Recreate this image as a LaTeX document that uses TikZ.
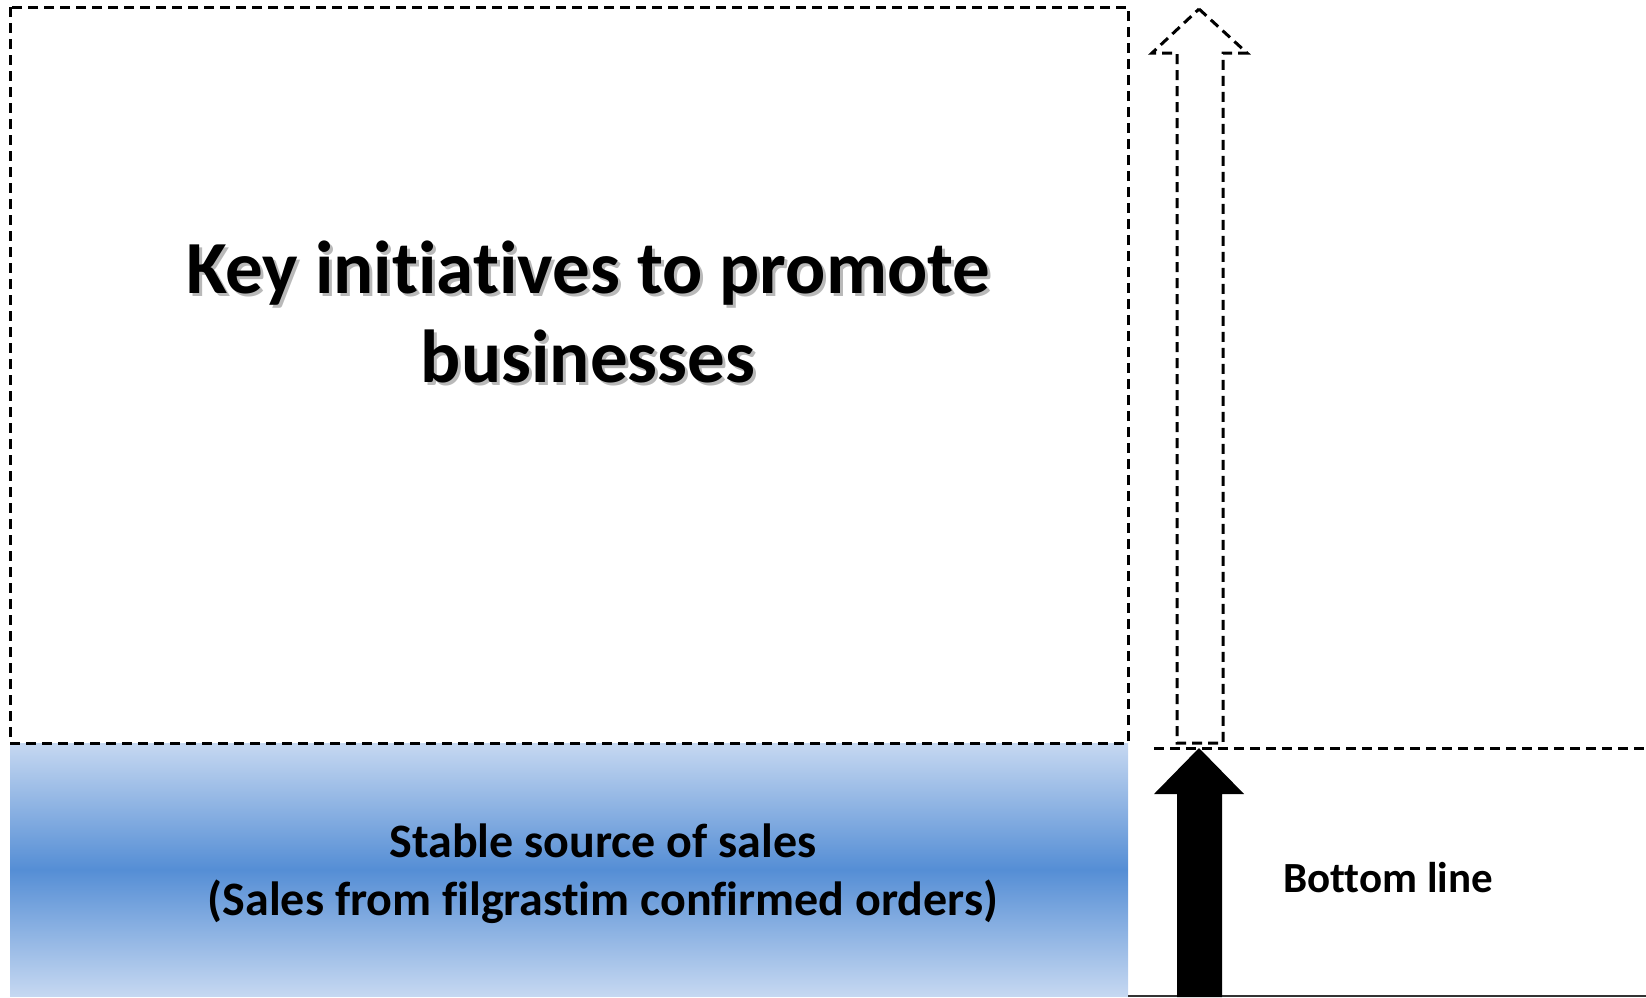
\documentclass[tikz,border=0pt]{standalone}
\usepackage{fontspec}
\setmainfont{Carlito}[Ligatures={NoCommon,NoRequired}]
\usepackage{tikz}

\definecolor{paleblue}{RGB}{198,216,241}
\definecolor{midblue}{RGB}{85,142,213}

\tikzset{
    dashline/.style={draw=black,line width=3pt,dash pattern=on 10pt off 6pt},
    bigtext/.style={font=\bfseries\fontsize{75}{89}\selectfont,align=center},
    midtext/.style={font=\bfseries\fontsize{48}{58}\selectfont,align=center}
}

\begin{document}
\begin{tikzpicture}[x=1pt,y=-1pt]
    \useasboundingbox (0,0) rectangle (1646,997);
    \coordinate (tl) at (10,7);
    \coordinate (br) at (1128,743);
    \coordinate (sb) at (10,996);
    \coordinate (tip) at (1199,748);
    \coordinate (top) at (1199,9);
    \shade[top color=paleblue,bottom color=paleblue,middle color=midblue] (br) rectangle (sb);
    \draw[dashline] (tl) rectangle (br);
    \draw[dashline] (1154,748) -- (1646,748);
    \draw[black!80,line width=1.2pt] (1128,996) -- (1646,996);
    \fill[black] (tip) -- (1244,794) -- (1222,794) -- (1222,997) -- (1177,997) -- (1177,794) -- (1154,794) -- cycle;
    \draw[dashline] (top) -- (1247,53) -- (1223,53) -- (1223,743) -- (1177,743) -- (1177,53) -- (1152,53) -- cycle;
    \node[bigtext,text=black!50,opacity=0.55] at (591,315) {Key initiatives to promote\\businesses};
    \node[bigtext] (key) at (588,312) {Key initiatives to promote\\businesses};
    \node[midtext] (stable) at (603,874) {Stable source of sales\\(Sales from filgrastim confirmed orders)};
    \node[font=\bfseries\fontsize{43}{52}\selectfont] (bottom) at (1388,878) {Bottom line};
\end{tikzpicture}
\end{document}
